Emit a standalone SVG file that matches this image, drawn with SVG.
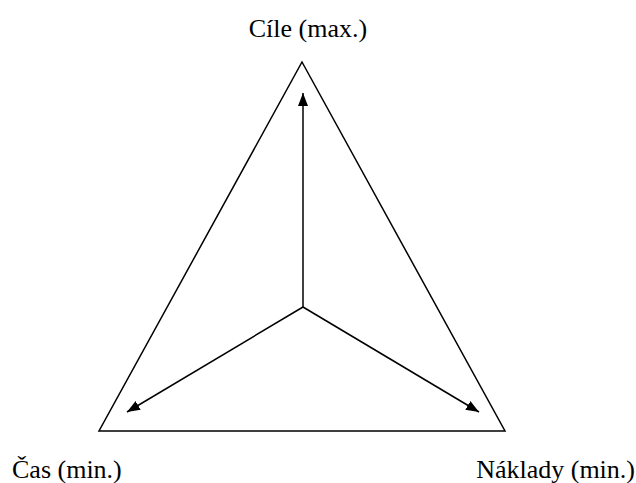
<svg xmlns="http://www.w3.org/2000/svg" width="636" height="483" viewBox="0 0 636 483">
<style>
.t{font-family:"Liberation Serif","Times New Roman",serif;font-size:26px;fill:#000}
.ln{stroke:#000;stroke-width:1.5;fill:none}
</style>
<defs>
<marker id="ah" markerWidth="13" markerHeight="10" refX="13" refY="5" orient="auto" markerUnits="userSpaceOnUse">
<path d="M0,0 L13,5 L0,10 Z" fill="#000"/>
</marker>
</defs>
<rect width="636" height="483" fill="#fff"/>
<g id="triangle">
<polygon class="ln" points="302,62 505,431 99,431"/>
</g>
<g id="connectors">
<line class="ln" x1="303" y1="307" x2="303" y2="93" marker-end="url(#ah)"/>
<line class="ln" x1="303" y1="307" x2="127" y2="412" marker-end="url(#ah)"/>
<line class="ln" x1="303" y1="307" x2="479" y2="412" marker-end="url(#ah)"/>
</g>
<g id="n_cile"><text class="t" x="308" y="37" text-anchor="middle">Cíle (max.)</text></g>
<g id="n_cas"><text class="t" x="12" y="478">Čas (min.)</text></g>
<g id="n_naklady"><text class="t" x="635" y="478" text-anchor="end">Náklady (min.)</text></g>
</svg>
